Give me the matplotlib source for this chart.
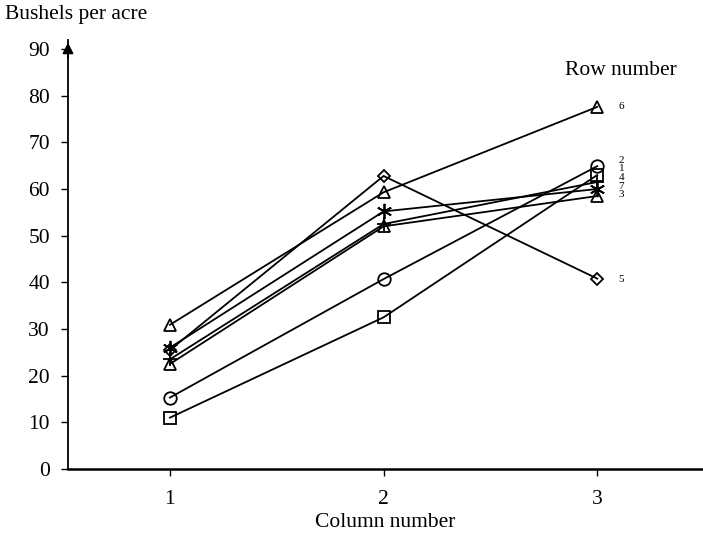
import matplotlib
matplotlib.use("Agg")
import matplotlib.pyplot as plt

columns = [1, 2, 3]
rows = ["1", "2", "3", "4", "5", "6", "7"]
row1 = [11.0, 32.5, 63.0]
row2 = [15.3, 40.7, 64.9]
row3 = [22.5, 52.0, 58.5]
row4 = [23.5, 52.5, 61.5]
row5 = [25.5, 62.8, 40.8]
row6 = [30.9, 59.3, 77.6]
row7 = [26.0, 55.2, 60.0]
series = [row1, row2, row3, row4, row5, row6, row7]
markers = ["s", "o", "^", "+", "D", "^", (6, 2, 0)]
msizes = [8, 9, 9, 10, 6, 9, 11]
label_y = [64.3, 66.2, 58.9, 62.4, 40.7, 77.6, 60.6]
yticks = [0, 10, 20, 30, 40, 50, 60, 70, 80, 90]

plt.rcParams["font.family"] = ["Liberation Serif", "DejaVu Serif"]
FS = 15.5

fig = plt.figure(figsize=(7.03, 5.42), dpi=100)
ax = fig.add_axes([68 / 703, 1 - 469 / 542, 1 - 68 / 703, (469 - 39.7) / 542])

for vals, m, ms in zip(series, markers, msizes):
    ax.plot(columns, vals, color="black", lw=1.3, marker=m, ms=ms,
            mfc="none", mec="black", mew=1.3, clip_on=False)

for name, ly in zip(rows, label_y):
    ax.text(3.1, ly, name, fontsize=8, ha="left", va="center")

ax.text(3.11, 85.5, "Row number", fontsize=FS, ha="center", va="center")

ax.set_xlim(0.523, 3.495)
ax.set_ylim(0, 92)
ax.set_xticks(columns)
ax.set_xticklabels([str(c) for c in columns], fontsize=FS)
ax.set_yticks(yticks)
ax.set_yticklabels([str(t) for t in yticks], fontsize=FS)
ax.tick_params(axis="both", direction="out", length=5, width=1)
ax.tick_params(axis="x", pad=10)
ax.tick_params(axis="y", pad=8)
for s in ["top", "right"]:
    ax.spines[s].set_visible(False)
ax.spines["left"].set_linewidth(1.3)
ax.spines["bottom"].set_linewidth(1.8)
ax.set_xlabel("Column number", fontsize=FS, labelpad=3)

# arrow on the y axis
ax.annotate("", xy=(0, 1.0), xycoords="axes fraction", xytext=(0, 0.95),
            arrowprops=dict(arrowstyle="-|>", color="black", lw=1.3,
                            mutation_scale=16))
fig.text(5 / 703, 1 - 15 / 542, "Bushels per acre", fontsize=FS,
         ha="left", va="center")

fig.savefig("out.png", dpi=100)
